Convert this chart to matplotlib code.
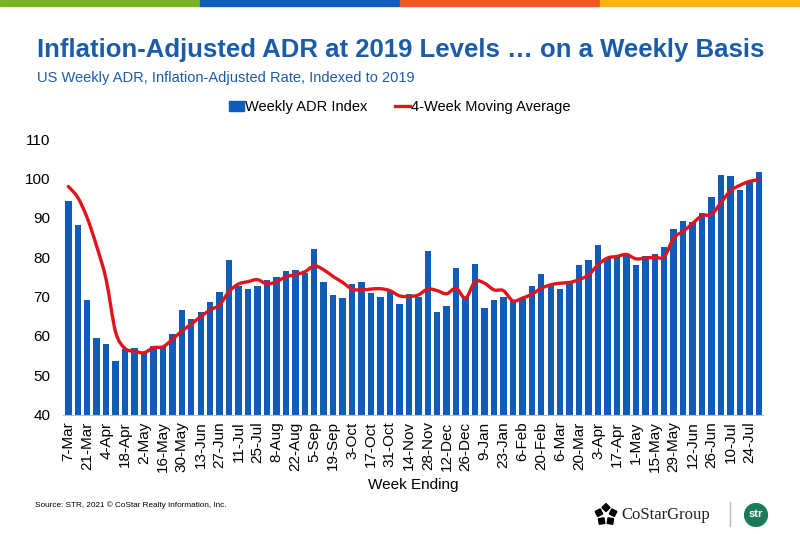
import numpy as np
import matplotlib
matplotlib.use("Agg")
import matplotlib.pyplot as plt
from matplotlib.patches import Rectangle, Circle, RegularPolygon, PathPatch
from matplotlib.path import Path
from matplotlib.lines import Line2D

# week ending labels (every other week is labelled)
weeks = ['7-Mar', '14-Mar', '21-Mar', '28-Mar', '4-Apr', '11-Apr', '18-Apr', '25-Apr',
         '2-May', '9-May', '16-May', '23-May', '30-May', '6-Jun', '13-Jun', '20-Jun',
         '27-Jun', '4-Jul', '11-Jul', '18-Jul', '25-Jul', '1-Aug', '8-Aug', '15-Aug',
         '22-Aug', '29-Aug', '5-Sep', '12-Sep', '19-Sep', '26-Sep', '3-Oct', '10-Oct',
         '17-Oct', '24-Oct', '31-Oct', '7-Nov', '14-Nov', '21-Nov', '28-Nov', '5-Dec',
         '12-Dec', '19-Dec', '26-Dec', '2-Jan', '9-Jan', '16-Jan', '23-Jan', '30-Jan',
         '6-Feb', '13-Feb', '20-Feb', '27-Feb', '6-Mar', '13-Mar', '20-Mar', '27-Mar',
         '3-Apr', '10-Apr', '17-Apr', '24-Apr', '1-May', '8-May', '15-May', '22-May',
         '29-May', '5-Jun', '12-Jun', '19-Jun', '26-Jun', '3-Jul', '10-Jul', '17-Jul',
         '24-Jul', '31-Jul']

adr_index = [94.3, 88.3, 69.0, 59.4, 57.9, 53.6, 56.6, 57.0, 55.7, 57.4,
             57.4, 60.4, 66.6, 64.3, 66.0, 68.5, 71.1, 79.3, 72.7, 72.0,
             72.6, 74.3, 74.9, 76.5, 76.8, 76.1, 82.2, 73.8, 70.3, 69.7,
             73.2, 73.7, 71.0, 70.0, 71.5, 68.2, 70.7, 70.0, 81.5, 66.0,
             67.5, 77.3, 69.8, 78.4, 67.2, 69.2, 69.9, 68.9, 69.3, 72.6,
             75.7, 72.6, 71.8, 73.4, 78.1, 79.4, 83.0, 79.8, 80.2, 80.7,
             78.1, 80.2, 80.9, 82.6, 87.2, 89.2, 88.9, 91.3, 95.2, 100.9,
             100.7, 97.2, 99.1, 101.7]

moving_avg = [98.0, 95.2, 90.0, 82.8, 74.3, 61.0, 56.8, 56.1, 55.7, 57.0,
              57.2, 59.1, 61.2, 63.0, 64.9, 66.6, 67.9, 71.3, 73.2, 73.8,
              74.3, 73.2, 73.8, 75.0, 75.6, 76.3, 77.8, 76.8, 75.1, 73.6,
              71.9, 71.7, 71.9, 72.0, 71.5, 70.2, 70.0, 70.4, 71.9, 71.5,
              70.7, 72.1, 69.6, 73.8, 73.4, 71.7, 71.5, 68.9, 69.6, 70.6,
              72.1, 73.0, 73.4, 73.6, 74.3, 75.5, 78.1, 79.8, 80.2, 80.7,
              79.6, 79.8, 80.0, 80.1, 84.9, 86.6, 88.6, 90.6, 90.9, 93.9,
              96.9, 98.3, 99.3, 99.7]

bar_color = '#0F5DB8'
line_color = '#E3121B'
title_color = '#1B5CA8'
plt.rcParams['font.family'] = ['Liberation Sans', 'DejaVu Sans']


def smooth_path(xs, ys):
    # excel-like smoothed line: catmull-rom segments as cubic beziers
    pts = np.column_stack([xs, ys]).astype(float)
    verts = [pts[0]]
    codes = [Path.MOVETO]
    n = len(pts)
    for i in range(n - 1):
        p0 = pts[i - 1] if i > 0 else pts[i]
        p1 = pts[i]
        p2 = pts[i + 1]
        p3 = pts[i + 2] if i + 2 < n else pts[i + 1]
        verts += [p1 + (p2 - p0) / 6, p2 - (p3 - p1) / 6, p2]
        codes += [Path.CURVE4] * 3
    return Path(verts, codes)


fig = plt.figure(figsize=(8, 5.34), dpi=100)

# coloured strip on top
strip = ['#78B51E', '#0F5DB8', '#EF5A22', '#FBB317']
for i, c in enumerate(strip):
    fig.patches.append(Rectangle((i * 0.25, 1 - 6 / 534), 0.25, 6 / 534,
                                 transform=fig.transFigure, color=c, zorder=5))

fig.text(0.046, 1 - 50 / 534, 'Inflation-Adjusted ADR at 2019 Levels \u2026 on a Weekly Basis',
         fontsize=18.5, fontweight='bold', color=title_color, va='center', ha='left')
fig.text(0.046, 1 - 78 / 534, 'US Weekly ADR, Inflation-Adjusted Rate, Indexed to 2019',
         fontsize=10.5, color=title_color, va='center', ha='left')

ax = fig.add_axes([63 / 800, 1 - 414.5 / 534, 700 / 800, 275.2 / 534])
x = np.arange(len(weeks))
ax.bar(x, adr_index, width=0.68, color=bar_color, zorder=2)
ax.add_patch(PathPatch(smooth_path(x, moving_avg), fill=False, edgecolor=line_color,
                       lw=2.4, zorder=3, capstyle='round', joinstyle='round'))

ax.set_xlim(-0.56, len(weeks) - 0.56)
ax.set_ylim(40, 110)
ax.set_yticks(np.arange(40, 111, 10))
ax.set_xticks(x[::2])
ax.set_xticklabels(weeks[::2], rotation=90, fontsize=11)
ax.tick_params(axis='y', labelsize=11, length=0, pad=9)
ax.tick_params(axis='x', length=0, pad=5)
for s in ['top', 'right', 'left']:
    ax.spines[s].set_visible(False)
ax.spines['bottom'].set_color('#BFBFBF')
ax.set_xlabel('Week Ending', fontsize=11, labelpad=4)

handles = [Rectangle((0, 0), 1, 1, color=bar_color),
           Line2D([0], [0], color=line_color, lw=2.4)]
fig.legend(handles, ['Weekly ADR Index', '4-Week Moving Average'],
           loc='center', bbox_to_anchor=(0.5, 1 - 107 / 534), ncol=2, frameon=False,
           fontsize=10.5, handlelength=1.0, handletextpad=0.1, columnspacing=1.9)

fig.text(35 / 800, 1 - 505 / 534, 'Source: STR, 2021 \u00a9 CoStar Realty Information, Inc.',
         fontsize=5.9, va='center', ha='left')

# logos
fig.text(621 / 800, 1 - 515 / 534, 'CoStarGroup', family='Liberation Serif', fontsize=12,
         va='center', ha='left', color='#222222')
lax = fig.add_axes([594 / 800, 1 - 527 / 534, 24 / 800, 24 / 534])
lax.set_xlim(-1, 1)
lax.set_ylim(-1, 1)
lax.set_aspect('equal')
lax.axis('off')
for k in range(5):
    a = np.pi / 2 + k * 2 * np.pi / 5
    lax.add_patch(RegularPolygon((0.62 * np.cos(a), 0.62 * np.sin(a)), 4, radius=0.33,
                                 orientation=a, color='black'))
fig.add_artist(Line2D([730 / 800, 730 / 800], [1 - 502 / 534, 1 - 526 / 534],
                      color='#BBBBBB', lw=1, transform=fig.transFigure))
sax = fig.add_axes([744 / 800, 1 - 527 / 534, 24 / 800, 24 / 534])
sax.set_xlim(-1, 1)
sax.set_ylim(-1, 1)
sax.set_aspect('equal')
sax.axis('off')
sax.add_patch(Circle((0, 0), 0.95, color='#1C7A5C'))
sax.text(0, 0.05, 'str', color='white', fontsize=8, fontweight='bold', ha='center', va='center')

fig.savefig('out.png', dpi=100)
